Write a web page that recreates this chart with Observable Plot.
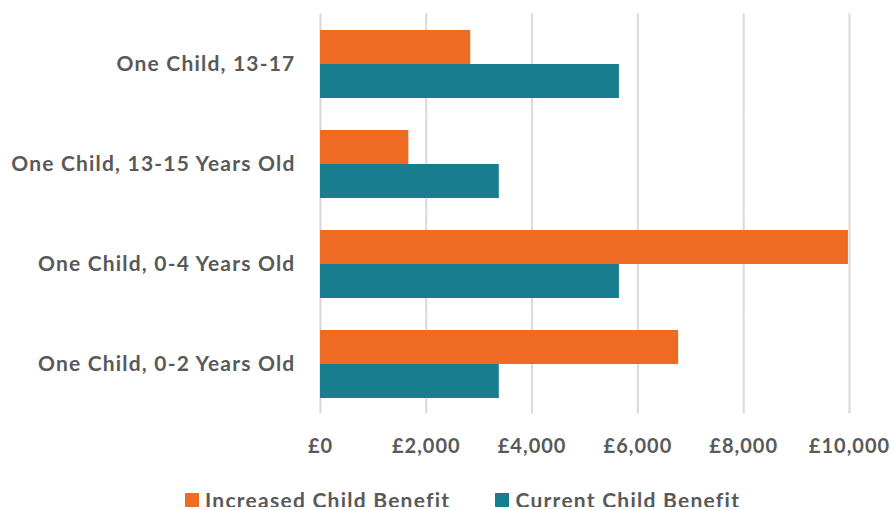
<!DOCTYPE html>
<html>
<head>
<meta charset="utf-8">
<script src="https://cdn.jsdelivr.net/npm/d3@7"></script>
<script src="https://cdn.jsdelivr.net/npm/@observablehq/plot@0.6"></script>
<style>
  body { margin: 0; background: #fff; font-family: Lato, "Open Sans", sans-serif; }
  #chart svg { overflow: visible; }
  #chart svg [aria-label="fy-axis tick label"] text { font-size: 21px; letter-spacing: 1.2px; }
  #chart svg [aria-label="x-axis tick label"] text { letter-spacing: 1px; }
  .legend { display: flex; align-items: center; height: 15px; padding-left: 185px; margin-top: 27px; font-size: 21px; font-weight: 700; letter-spacing: 1.25px; line-height: 16px; color: #595959; }
  .legend .item { display: flex; align-items: center; margin-right: 45px; white-space: nowrap; }
  .legend .swatch { width: 14px; height: 14px; margin-right: 6px; flex: none; }
  .legend .label { display: block; line-height: 16px; }
</style>
</head>
<body>
<div id="chart"></div>
<script>
// Annual child benefit for one child, by age band
const categories = ["One Child, 13-17", "One Child, 13-15 Years Old", "One Child, 0-4 Years Old", "One Child, 0-2 Years Old"];
const series = ["Increased Child Benefit", "Current Child Benefit"];
const increased = [2840, 1670, 9980, 6770];
const current = [5650, 3380, 5650, 3380];
const xTicks = [0, 2000, 4000, 6000, 8000, 10000];
const colors = ["#ef6b24", "#187e8f"];

const table = [];
categories.forEach((c, i) => {
  table.push({category: c, series: series[0], value: increased[i]});
  table.push({category: c, series: series[1], value: current[i]});
});

const money = d => "£" + d3.format(",")(d);

const width = 893, height = 465, marginTop = 13, marginBottom = 52;
const paddingInner = 0.31, paddingOuter = 0.155;
// half of the gap between facet rows, so gridlines run unbroken through the gaps
const step = (height - marginTop - marginBottom) / (categories.length - paddingInner + 2 * paddingOuter);
const halfGap = step * paddingInner / 2;

const chart = Plot.plot({
  width,
  height,
  marginLeft: 320,
  marginRight: 44,
  marginTop,
  marginBottom,
  style: {fontFamily: "Lato, 'Open Sans', sans-serif", fontSize: "20px", fontWeight: 700, color: "#595959", background: "#fff"},
  x: {domain: [0, 10000], ticks: xTicks, tickFormat: money, label: null, tickSize: 0, tickPadding: 40},
  fy: {domain: categories, paddingInner, paddingOuter, label: null, tickSize: 0, tickPadding: 25},
  y: {domain: series, axis: null, padding: 0},
  color: {domain: series, range: colors},
  marks: [
    Plot.ruleX(xTicks, {stroke: "#d9d9d9", strokeWidth: 2, insetTop: -halfGap, insetBottom: -halfGap}),
    Plot.barX(table, {x: "value", y: "series", fy: "category", fill: "series"})
  ]
});
document.getElementById("chart").appendChild(chart);

// Legend below the chart
const legend = document.createElement("div");
legend.className = "legend";
series.forEach((s, i) => {
  const item = document.createElement("div");
  item.className = "item";
  const sw = document.createElement("span");
  sw.className = "swatch";
  sw.style.background = colors[i];
  const label = document.createElement("span");
  label.className = "label";
  label.textContent = s;
  item.appendChild(sw);
  item.appendChild(label);
  legend.appendChild(item);
});
document.body.appendChild(legend);
</script>
</body>
</html>
